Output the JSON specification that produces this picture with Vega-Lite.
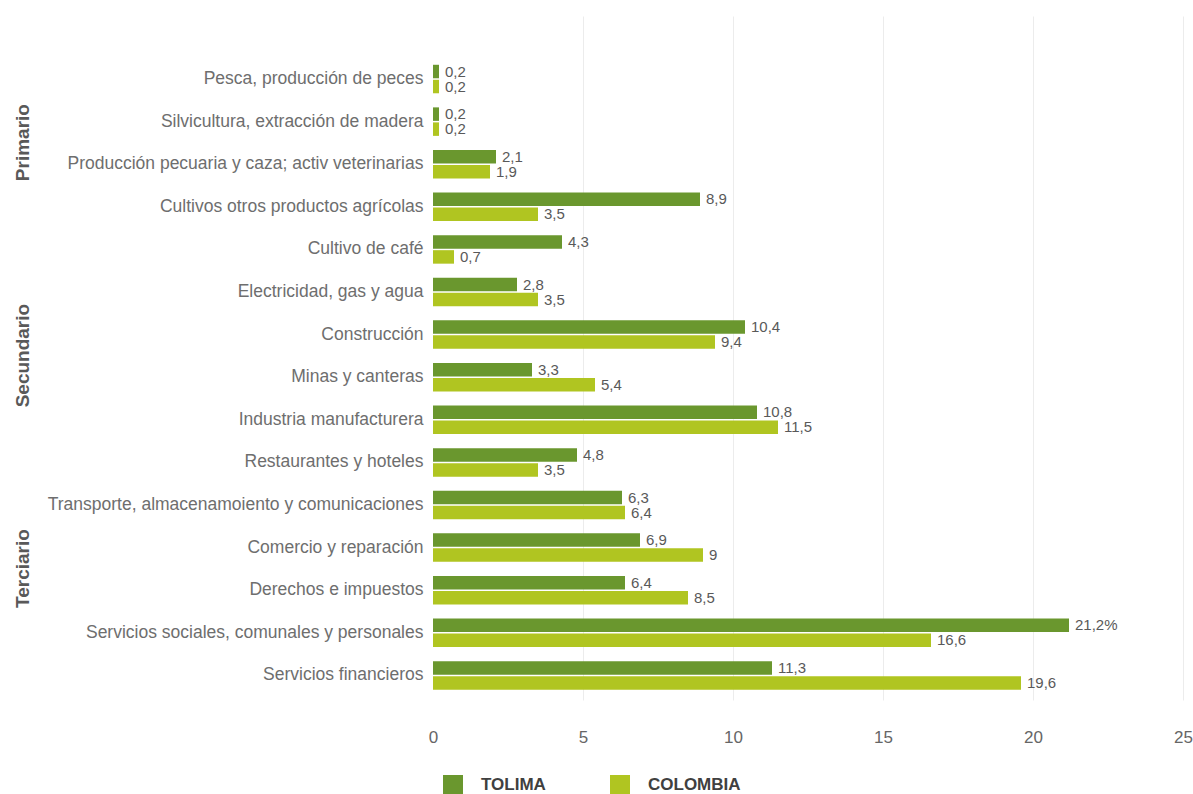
{
  "$schema": "https://vega.github.io/schema/vega-lite/v6.json",
  "width": 750,
  "height": 684,
  "autosize": {"type": "none"},
  "padding": {"left": 433, "top": 16, "right": 10, "bottom": 94},
  "background": "white",
  "config": {
    "view": {"stroke": null},
    "font": "Liberation Sans, Arial, sans-serif"
  },
  "data": {
    "values": [
      {"categoria": "Pesca, producción de peces", "serie": "TOLIMA", "valor": 0.2, "etiqueta": "0,2"},
      {"categoria": "Pesca, producción de peces", "serie": "COLOMBIA", "valor": 0.2, "etiqueta": "0,2"},
      {"categoria": "Silvicultura, extracción de madera", "serie": "TOLIMA", "valor": 0.2, "etiqueta": "0,2"},
      {"categoria": "Silvicultura, extracción de madera", "serie": "COLOMBIA", "valor": 0.2, "etiqueta": "0,2"},
      {"categoria": "Producción pecuaria y caza; activ veterinarias", "serie": "TOLIMA", "valor": 2.1, "etiqueta": "2,1"},
      {"categoria": "Producción pecuaria y caza; activ veterinarias", "serie": "COLOMBIA", "valor": 1.9, "etiqueta": "1,9"},
      {"categoria": "Cultivos otros productos agrícolas", "serie": "TOLIMA", "valor": 8.9, "etiqueta": "8,9"},
      {"categoria": "Cultivos otros productos agrícolas", "serie": "COLOMBIA", "valor": 3.5, "etiqueta": "3,5"},
      {"categoria": "Cultivo de café", "serie": "TOLIMA", "valor": 4.3, "etiqueta": "4,3"},
      {"categoria": "Cultivo de café", "serie": "COLOMBIA", "valor": 0.7, "etiqueta": "0,7"},
      {"categoria": "Electricidad, gas y agua", "serie": "TOLIMA", "valor": 2.8, "etiqueta": "2,8"},
      {"categoria": "Electricidad, gas y agua", "serie": "COLOMBIA", "valor": 3.5, "etiqueta": "3,5"},
      {"categoria": "Construcción", "serie": "TOLIMA", "valor": 10.4, "etiqueta": "10,4"},
      {"categoria": "Construcción", "serie": "COLOMBIA", "valor": 9.4, "etiqueta": "9,4"},
      {"categoria": "Minas y canteras", "serie": "TOLIMA", "valor": 3.3, "etiqueta": "3,3"},
      {"categoria": "Minas y canteras", "serie": "COLOMBIA", "valor": 5.4, "etiqueta": "5,4"},
      {"categoria": "Industria manufacturera", "serie": "TOLIMA", "valor": 10.8, "etiqueta": "10,8"},
      {"categoria": "Industria manufacturera", "serie": "COLOMBIA", "valor": 11.5, "etiqueta": "11,5"},
      {"categoria": "Restaurantes y hoteles", "serie": "TOLIMA", "valor": 4.8, "etiqueta": "4,8"},
      {"categoria": "Restaurantes y hoteles", "serie": "COLOMBIA", "valor": 3.5, "etiqueta": "3,5"},
      {"categoria": "Transporte, almacenamoiento y comunicaciones", "serie": "TOLIMA", "valor": 6.3, "etiqueta": "6,3"},
      {"categoria": "Transporte, almacenamoiento y comunicaciones", "serie": "COLOMBIA", "valor": 6.4, "etiqueta": "6,4"},
      {"categoria": "Comercio y reparación", "serie": "TOLIMA", "valor": 6.9, "etiqueta": "6,9"},
      {"categoria": "Comercio y reparación", "serie": "COLOMBIA", "valor": 9, "etiqueta": "9"},
      {"categoria": "Derechos e impuestos", "serie": "TOLIMA", "valor": 6.4, "etiqueta": "6,4"},
      {"categoria": "Derechos e impuestos", "serie": "COLOMBIA", "valor": 8.5, "etiqueta": "8,5"},
      {"categoria": "Servicios sociales, comunales y personales", "serie": "TOLIMA", "valor": 21.2, "etiqueta": "21,2%"},
      {"categoria": "Servicios sociales, comunales y personales", "serie": "COLOMBIA", "valor": 16.6, "etiqueta": "16,6"},
      {"categoria": "Servicios financieros", "serie": "TOLIMA", "valor": 11.3, "etiqueta": "11,3"},
      {"categoria": "Servicios financieros", "serie": "COLOMBIA", "valor": 19.6, "etiqueta": "19,6"}
    ]
  },
  "resolve": {"axis": {"y": "independent"}},
  "layer": [
    {
      "mark": {"type": "bar"},
      "encoding": {
        "y": {
          "field": "categoria",
          "type": "nominal",
          "sort": null,
          "scale": {"paddingInner": 0.331, "paddingOuter": 0.694, "align": 0.825},
          "axis": {
            "title": null,
            "orient": "left",
            "domain": false,
            "ticks": false,
            "labelPadding": 10,
            "labelFontSize": 17.5,
            "labelColor": "#6e6e6e",
            "labelLimit": 500
          }
        },
        "yOffset": {
          "field": "serie",
          "type": "nominal",
          "sort": ["TOLIMA", "COLOMBIA"],
          "scale": {"paddingInner": 0.1}
        },
        "x": {
          "field": "valor",
          "type": "quantitative",
          "scale": {"domain": [0, 25], "nice": false},
          "axis": {
            "title": null,
            "values": [0, 5, 10, 15, 20, 25],
            "domain": false,
            "ticks": false,
            "labelFlush": false,
            "labelPadding": 29,
            "labelFontSize": 17,
            "labelColor": "#666666",
            "gridColor": "#ececec",
            "gridWidth": 1,
            "gridOpacity": {"condition": {"test": "datum.value === 0", "value": 0}, "value": 1}
          }
        },
        "color": {
          "field": "serie",
          "type": "nominal",
          "sort": ["TOLIMA", "COLOMBIA"],
          "scale": {"domain": ["TOLIMA", "COLOMBIA"], "range": ["#6a972e", "#b0c521"]},
          "legend": {
            "title": null,
            "orient": "none",
            "legendX": 10,
            "legendY": 759,
            "padding": 0,
            "direction": "horizontal",
            "symbolType": "square",
            "symbolSize": 400,
            "symbolStrokeWidth": 0,
            "labelFontSize": 17,
            "labelFontWeight": "bold",
            "labelColor": "#404040",
            "labelOffset": 18,
            "columnPadding": 64
          }
        }
      }
    },
    {
      "mark": {"type": "text", "align": "left", "baseline": "middle", "dx": 6, "fontSize": 15, "color": "#595959"},
      "encoding": {
        "y": {
          "field": "categoria",
          "type": "nominal",
          "sort": null,
          "axis": {
            "title": null,
            "orient": "left",
            "domain": false,
            "ticks": false,
            "tickSize": 0,
            "grid": false,
            "values": ["Silvicultura, extracción de madera", "Construcción", "Comercio y reparación"],
            "labelExpr": "datum.value === 'Construcción' ? 'Secundario' : datum.value === 'Comercio y reparación' ? 'Terciario' : 'Primario'",
            "labelOffset": 21,
            "labelAngle": -90,
            "labelAlign": "center",
            "labelBaseline": "alphabetic",
            "labelPadding": 405,
            "labelFontSize": 19,
            "labelFontWeight": "bold",
            "labelColor": "#595959"
          }
        },
        "yOffset": {
          "field": "serie",
          "type": "nominal",
          "sort": ["TOLIMA", "COLOMBIA"]
        },
        "x": {"field": "valor", "type": "quantitative"},
        "text": {"field": "etiqueta", "type": "nominal"}
      }
    }
  ]
}
